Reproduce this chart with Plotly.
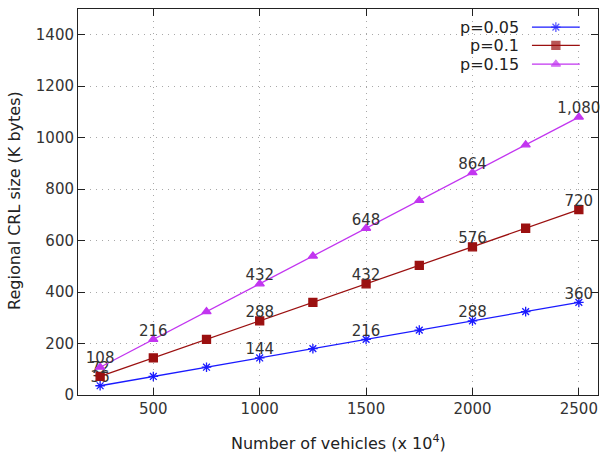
import plotly.graph_objects as go

vehicles = [250, 500, 750, 1000, 1250, 1500, 1750, 2000, 2250, 2500]
crl_p005 = [36, 72, 108, 144, 180, 216, 252, 288, 324, 360]
crl_p010 = [72, 144, 216, 288, 360, 432, 504, 576, 648, 720]
crl_p015 = [108, 216, 324, 432, 540, 648, 756, 864, 972, 1080]
series_names = ["p=0.05", "p=0.1", "p=0.15"]
labelled_x = {
    "p=0.05": [250, 1000, 1500, 2000, 2500],
    "p=0.1": [250, 1000, 1500, 2000, 2500],
    "p=0.15": [250, 500, 1000, 1500, 2000, 2500],
}
x_ticks = [500, 1000, 1500, 2000, 2500]
y_ticks = [0, 200, 400, 600, 800, 1000, 1200, 1400]

colors = ["#1a1aff", "#9b1010", "#c235f0"]
symbols = ["asterisk-open", "square", "triangle-up"]
msize = [8, 8, 8]
FONT = "DejaVu Sans"

fig = go.Figure()
for name, ys, c, s, ms in zip(series_names, [crl_p005, crl_p010, crl_p015], colors, symbols, msize):
    fig.add_trace(go.Scatter(
        x=vehicles, y=ys, mode="lines+markers", name=name,
        line=dict(color=c, width=1.3),
        marker=dict(symbol=s, size=ms, color=c, line=dict(color=c, width=1.3)),
        showlegend=False,
    ))
    lx = labelled_x[name]
    ly = [ys[vehicles.index(v)] for v in lx]
    fig.add_trace(go.Scatter(
        x=lx, y=ly, mode="text", text=[f"{v:,}" for v in ly],
        textposition="top center", textfont=dict(family=FONT, size=15, color="#333333"),
        showlegend=False, cliponaxis=False, hoverinfo="skip",
    ))

# custom gnuplot-style legend (text left of sample)
leg_y = [0.953, 0.906, 0.857]
for name, c, s, ms, yy in zip(series_names, colors, symbols, msize, leg_y):
    fig.add_trace(go.Scatter(
        x=[0.873, 0.919, 0.965], y=[yy, yy, yy], xaxis="x2", yaxis="y2",
        mode="lines+markers", line=dict(color=c, width=1.3),
        marker=dict(symbol=s, size=[0, ms, 0], color=c, line=dict(color=c, width=1.3)),
        showlegend=False, hoverinfo="skip",
    ))
    fig.add_annotation(x=0.852, y=yy, xref="paper", yref="paper", text=name,
                       showarrow=False, xanchor="right", yanchor="middle",
                       font=dict(family=FONT, size=16, color="#222222"))

axis_common = dict(
    showline=True, linecolor="#222222", linewidth=1, mirror="ticks",
    ticks="inside", ticklen=7, tickcolor="#222222",
    showgrid=True, gridcolor="#a8a8a8", griddash="1px,5px", gridwidth=1,
    zeroline=False, tickfont=dict(family=FONT, size=15, color="#333333"),
)
fig.update_layout(
    width=607, height=455,
    margin=dict(l=78, r=9, t=9, b=60),
    paper_bgcolor="white", plot_bgcolor="white",
    xaxis=dict(range=[146, 2590], tickvals=x_ticks, **axis_common),
    yaxis=dict(range=[0, 1500], tickvals=y_ticks, **axis_common),
    xaxis2=dict(range=[0, 1], overlaying="x", visible=False, fixedrange=True),
    yaxis2=dict(range=[0, 1], overlaying="y", visible=False, fixedrange=True),
    font=dict(family=FONT, size=15, color="#222222"),
)
fig.add_annotation(x=0.5, y=-0.124, xref="paper", yref="paper",
                   text="Number of vehicles (x 10<sup>4</sup>)", showarrow=False,
                   xanchor="center", yanchor="middle",
                   font=dict(family=FONT, size=16, color="#222222"))
fig.add_annotation(x=-0.121, y=0.503, xref="paper", yref="paper",
                   text="Regional CRL size (K bytes)", showarrow=False, textangle=-90,
                   xanchor="center", yanchor="middle",
                   font=dict(family=FONT, size=16, color="#222222"))

# remove the browser's default 8px body margin so the figure sits at (0,0)
fig.write_html("out.html", config={"displayModeBar": False},
               post_script="document.body.style.margin='0px';")
